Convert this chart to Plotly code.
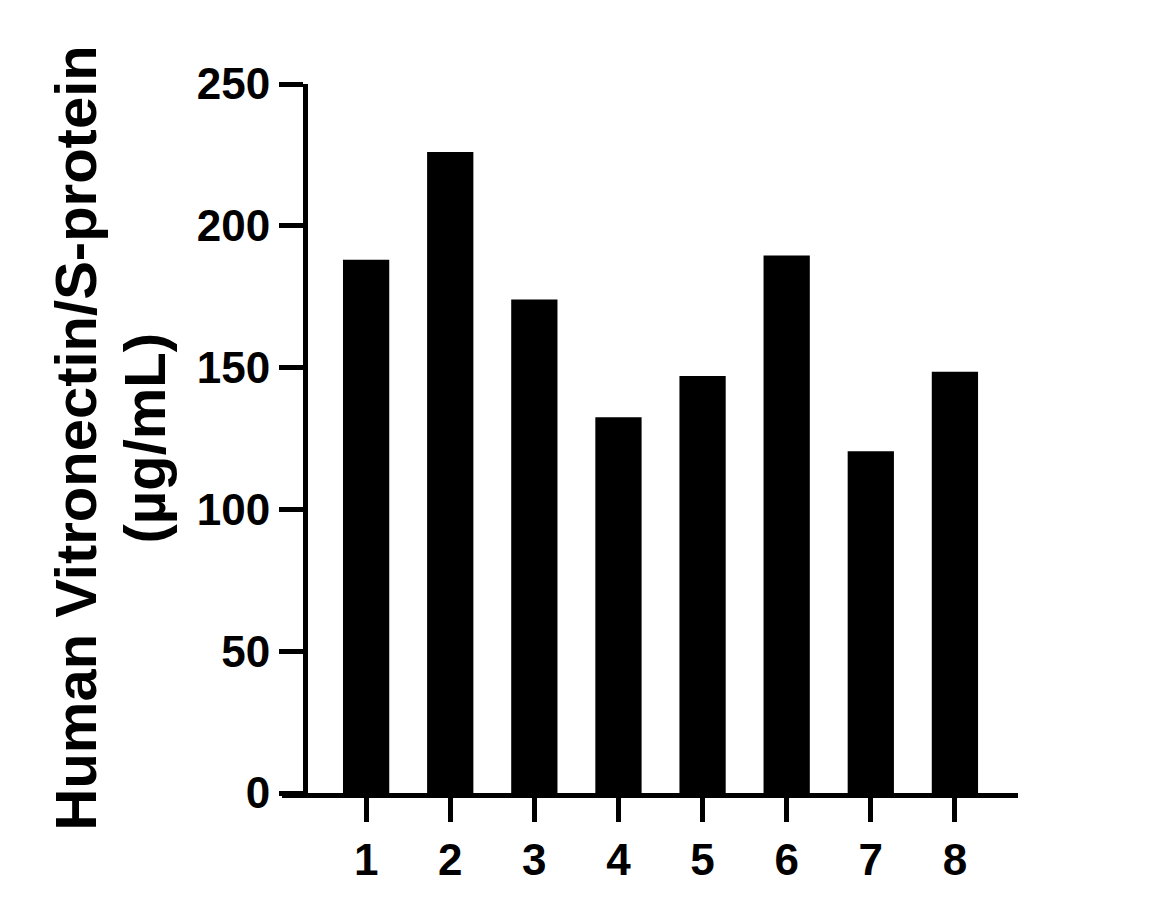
import plotly.graph_objects as go

# sample numbers and measured concentrations (ug/mL)
samples = [1, 2, 3, 4, 5, 6, 7, 8]
conc = [188, 226, 174, 132.5, 147, 189.5, 120.5, 148.5]
y_ticks = [0, 50, 100, 150, 200, 250]
title_lines = ["Human Vitronectin/S-protein", "(µg/mL)"]

FONT = "Liberation Sans, Arial, sans-serif"

# plot area in pixels (page is 1149 x 910, page body adds 8px offset)
OFF = 8
L, R, T, B = 282 - OFF, 1018 - OFF, 84 - OFF, 793 - OFF
W, H = 1149, 910
YAXIS_PX = 305 - OFF
TITLE_PX = [75 - OFF, 144 - OFF]  # centre of each rotated title line


def px_to_paper(px):
    return (px - L) / (R - L)


fig = go.Figure(
    go.Bar(
        x=samples,
        y=conc,
        width=0.55,
        marker=dict(color="black", line=dict(width=0)),
    )
)

axis_style = dict(
    ticks="outside",
    ticklen=24,
    tickwidth=5,
    tickcolor="black",
    showline=True,
    linewidth=5,
    linecolor="black",
    showgrid=False,
    zeroline=False,
    tickfont=dict(size=44, family=FONT, weight="bold"),
)

fig.update_layout(
    width=W,
    height=H,
    paper_bgcolor="white",
    plot_bgcolor="white",
    margin=dict(l=L, r=W - R, t=T, b=H - B, pad=0),
    showlegend=False,
    font=dict(family=FONT, color="black"),
    xaxis=dict(
        range=[0, 8.75],
        tickvals=samples,
        ticktext=[str(s) for s in samples],
        **axis_style,
    ),
    yaxis=dict(
        range=[0, 250],
        tickvals=y_ticks,
        anchor="free",
        position=px_to_paper(YAXIS_PX),
        **axis_style,
    ),
    annotations=[
        dict(
            text=line,
            xref="paper",
            yref="paper",
            x=px_to_paper(px),
            y=0.5,
            xanchor="center",
            yanchor="middle",
            textangle=-90,
            showarrow=False,
            font=dict(size=58, family=FONT, weight="bold", color="black"),
        )
        for line, px in zip(title_lines, TITLE_PX)
    ],
)

fig.write_html("out.html")
